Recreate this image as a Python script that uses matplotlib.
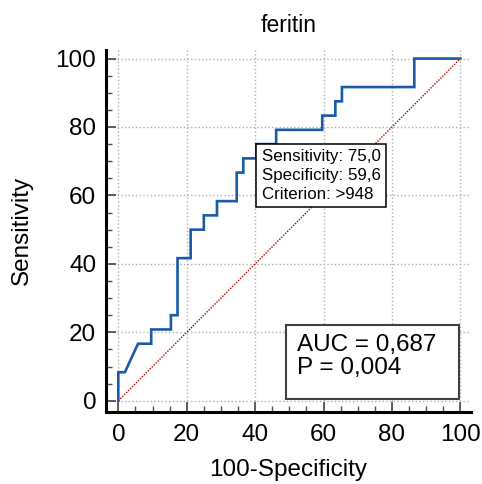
import matplotlib
matplotlib.use("Agg")
import matplotlib.pyplot as plt
from matplotlib.patches import Rectangle
from matplotlib.ticker import MultipleLocator

plt.rcParams['font.family'] = ['Liberation Sans', 'DejaVu Sans']

# ROC curve points (100-Specificity, Sensitivity)
fpr = [0, 0, 1.92, 5.77, 9.62, 9.62, 15.38, 15.38, 17.31, 17.31, 21.15, 21.15,
       25.0, 25.0, 28.85, 28.85, 34.62, 34.62, 36.54, 36.54, 40.38, 40.38,
       46.15, 46.15, 59.62, 59.62, 63.46, 63.46, 65.38, 65.38, 86.54, 86.54, 100]
tpr = [0, 8.33, 8.33, 16.67, 16.67, 20.83, 20.83, 25.0, 25.0, 41.67, 41.67, 50.0,
       50.0, 54.17, 54.17, 58.33, 58.33, 66.67, 66.67, 70.83, 70.83, 75.0,
       75.0, 79.17, 79.17, 83.33, 83.33, 87.5, 87.5, 91.67, 91.67, 100, 100]

crit_x = 40.38
crit_y = 75.0
crit_text = "Sensitivity: 75,0\nSpecificity: 59,6\nCriterion: >948"
auc_text = "AUC = 0,687\nP = 0,004"
ticks = [0, 20, 40, 60, 80, 100]

fig = plt.figure(figsize=(4.82, 4.84), dpi=100)
ax = fig.add_axes([106 / 482, (484 - 411.7) / 484, (470.6 - 106) / 482, (411.7 - 50) / 484])

ax.set_xlim(-3.6, 103.0)
ax.set_ylim(-3.2, 102.5)

ax.grid(True, which='major', linestyle=':', color='#b0b0b0', linewidth=1.0, zorder=0)
ax.set_axisbelow(True)

# chance diagonal
ax.plot([0, 100], [0, 100], linestyle=(0, (1, 1)), color='#b00000', linewidth=1.0, zorder=2)
# ROC curve
ax.plot(fpr, tpr, color='#1a5aa6', linewidth=1.9, zorder=3, solid_joinstyle='miter')

# criterion box
ax.annotate(crit_text, xy=(crit_x, crit_y), xytext=(3.8, -3.8), textcoords='offset points',
            ha='left', va='top', fontsize=12.2, linespacing=1.3, zorder=5,
            bbox=dict(boxstyle='square,pad=0.32', facecolor='white', edgecolor='black', linewidth=1.1))

# AUC box
ax.add_patch(Rectangle((49.1, 0.4), 50.5, 21.7, facecolor='white', edgecolor='#404040',
                       linewidth=1.5, zorder=5))
ax.text(52.2, 19.6, auc_text, ha='left', va='top', fontsize=17.5, linespacing=1.1, zorder=6)

ax.spines['top'].set_visible(False)
ax.spines['right'].set_visible(False)
ax.spines['left'].set_linewidth(2.2)
ax.spines['bottom'].set_linewidth(2.2)

ax.set_xticks(ticks)
ax.set_yticks(ticks)
ax.xaxis.set_minor_locator(MultipleLocator(5))
ax.yaxis.set_minor_locator(MultipleLocator(5))
ax.tick_params(which='major', direction='in', length=7.5, width=1.3, color='#505050',
               labelsize=17.5, pad=7)
ax.tick_params(axis='x', which='major', pad=9)
ax.tick_params(which='minor', direction='in', length=4, width=1.0, color='#505050')

ax.set_xlabel("100-Specificity", fontsize=17.5, labelpad=9)
ax.set_ylabel("Sensitivity", fontsize=17.5, labelpad=16)
ax.set_title("feritin", fontsize=16.5, pad=13)

fig.savefig("out.png", dpi=100)
